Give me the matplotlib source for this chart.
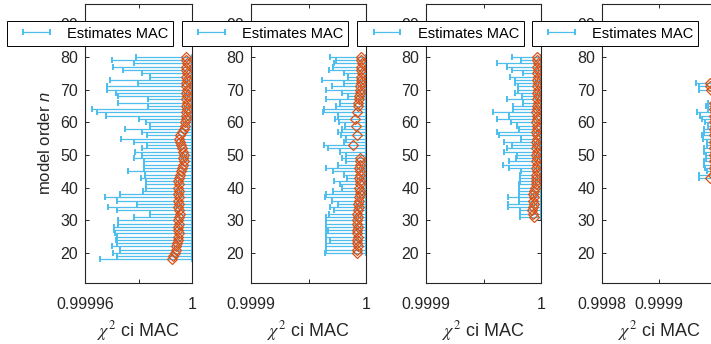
import numpy as np
import matplotlib
matplotlib.use('Agg')
import matplotlib.pyplot as plt
from matplotlib.container import ErrorbarContainer
from matplotlib.legend_handler import HandlerErrorbar

plt.rcParams['font.family'] = ['Liberation Sans', 'DejaVu Sans']
plt.rcParams['mathtext.fontset'] = 'stix'
plt.rcParams['mathtext.it'] = 'Liberation Sans:italic'
plt.rcParams['mathtext.rm'] = 'Liberation Sans'

# model orders and chi^2 confidence bounds / estimates of the MAC
orders1 = list(range(18, 81))
low1 = [0.9999656, 0.9999720, 0.9999705, 0.9999731, 0.9999701, 0.9999720, 0.9999716,
        0.9999720, 0.9999712, 0.9999708, 0.9999708, 0.9999723, 0.9999723, 0.9999783,
        0.9999843, 0.9999720, 0.9999686, 0.9999794, 0.9999720, 0.9999675, 0.9999731,
        0.9999817, 0.9999828, 0.9999828, 0.9999828, 0.9999809, 0.9999824, 0.9999761,
        0.9999821, 0.9999821, 0.9999821, 0.9999783, 0.9999813, 0.9999787, 0.9999813,
        0.9999832, 0.9999783, 0.9999735, 0.9999832, 0.9999813, 0.9999750, 0.9999843,
        0.9999828, 0.9999802, 0.9999679, 0.9999645, 0.9999626, 0.9999836, 0.9999723,
        0.9999836, 0.9999723, 0.9999716, 0.9999682, 0.9999682, 0.9999798, 0.9999694,
        0.9999843, 0.9999813, 0.9999742, 0.9999705, 0.9999783, 0.9999701, 0.9999791]
est1 = [0.9999925, 0.9999929, 0.9999936, 0.9999940, 0.9999940, 0.9999944, 0.9999948,
        0.9999948, 0.9999951, 0.9999948, 0.9999948, 0.9999951, 0.9999948, 0.9999951,
        0.9999955, 0.9999951, 0.9999948, 0.9999951, 0.9999948, 0.9999951, 0.9999948,
        0.9999951, 0.9999948, 0.9999951, 0.9999948, 0.9999951, 0.9999955, 0.9999959,
        0.9999963, 0.9999966, 0.9999970, 0.9999966, 0.9999970, 0.9999966, 0.9999963,
        0.9999959, 0.9999955, 0.9999951, 0.9999955, 0.9999963, 0.9999970, 0.9999974,
        0.9999974, 0.9999978, 0.9999978, 0.9999978, 0.9999981, 0.9999978, 0.9999981,
        0.9999978, 0.9999981, 0.9999978, 0.9999981, 0.9999978, 0.9999978, 0.9999981,
        0.9999978, 0.9999981, 0.9999978, 0.9999978, 0.9999981, 0.9999978, 0.9999978]

orders2 = list(range(20, 81))
low2 = [0.9999643, 0.9999652, 0.9999652, 0.9999652, 0.9999687, 0.9999652, 0.9999652,
        0.9999670, 0.9999652, 0.9999652, 0.9999652, 0.9999652, 0.9999678, 0.9999722,
        0.9999687, 0.9999757, 0.9999704, 0.9999643, 0.9999652, 0.9999713, 0.9999791,
        0.9999774, 0.9999722, 0.9999835, 0.9999809, 0.9999713, 0.9999652, 0.9999757,
        0.9999826, 0.9999791, 0.9999826, 0.9999774, 0.9999670, 0.9999635, 0.9999809,
        0.9999826, 0.9999783, 0.9999757, 0.9999791, 0.9999817, 0.9999765, 0.9999730,
        0.9999757, 0.9999626, 0.9999635, 0.9999739, 0.9999774, 0.9999652, 0.9999843,
        0.9999791, 0.9999652, 0.9999704, 0.9999809, 0.9999617, 0.9999843, 0.9999809,
        0.9999678, 0.9999713, 0.9999722, 0.9999739, 0.9999687]
est2 = [0.9999922, 0.9999922, 0.9999930, 0.9999922, 0.9999922, 0.9999930, 0.9999922,
        0.9999922, 0.9999930, 0.9999922, 0.9999922, 0.9999930, 0.9999922, 0.9999930,
        0.9999939, 0.9999930, 0.9999939, 0.9999939, 0.9999948, 0.9999948, 0.9999939,
        0.9999948, 0.9999948, 0.9999939, 0.9999948, 0.9999948, 0.9999939, 0.9999948,
        0.9999948, 0.9999948, np.nan, np.nan, np.nan, 0.9999887, np.nan,
        np.nan, 0.9999922, np.nan, np.nan, 0.9999913, np.nan, 0.9999904,
        np.nan, 0.9999922, np.nan, 0.9999930, 0.9999930, 0.9999939, 0.9999939,
        0.9999948, 0.9999948, 0.9999948, 0.9999957, 0.9999957, 0.9999957, 0.9999965,
        0.9999957, 0.9999957, 0.9999965, 0.9999957, 0.9999957]

orders3 = list(range(31, 81))
low3 = [0.9999817, 0.9999817, 0.9999817, 0.9999713, 0.9999713, 0.9999809, 0.9999713,
        0.9999809, 0.9999809, 0.9999809, 0.9999809, 0.9999817, 0.9999817, 0.9999817,
        0.9999826, 0.9999722, 0.9999670, 0.9999722, 0.9999783, 0.9999791, 0.9999678,
        0.9999704, 0.9999748, 0.9999678, 0.9999826, 0.9999635, 0.9999617, 0.9999809,
        0.9999791, 0.9999739, 0.9999617, 0.9999722, 0.9999583, 0.9999757, 0.9999757,
        0.9999843, 0.9999704, 0.9999835, 0.9999774, 0.9999800, 0.9999800, 0.9999774,
        0.9999774, 0.9999730, 0.9999843, 0.9999748, 0.9999704, 0.9999617, 0.9999826,
        0.9999748]
est3 = [0.9999939, 0.9999930, 0.9999922, 0.9999930, 0.9999939, 0.9999930, 0.9999939,
        0.9999930, 0.9999939, 0.9999948, 0.9999957, 0.9999957, 0.9999957, 0.9999957,
        0.9999965, 0.9999957, 0.9999965, 0.9999957, 0.9999965, 0.9999957, 0.9999965,
        0.9999957, 0.9999965, 0.9999957, 0.9999965, 0.9999965, 0.9999957, 0.9999965,
        0.9999965, 0.9999957, 0.9999965, 0.9999965, 0.9999957, 0.9999965, 0.9999965,
        0.9999974, 0.9999965, 0.9999974, 0.9999965, 0.9999974, 0.9999965, 0.9999974,
        0.9999965, 0.9999974, 0.9999965, 0.9999974, 0.9999965, 0.9999974, 0.9999965,
        0.9999965]

orders4 = list(range(43, 67)) + [70, 71, 72]
low4 = [0.9999696, 0.9999696, 0.9999839, 0.9999804, 0.9999786, 0.9999786, 0.9999821,
        0.9999821, 0.9999786, 0.9999786, 0.9999839, 0.9999839, 0.9999768, 0.9999750,
        0.9999786, 0.9999786, 0.9999857, 0.9999804, 0.9999750, 0.9999714, 0.9999661,
        0.9999857, 0.9999821, 0.9999857, 0.9999696, 0.9999696, 0.9999643]
est4 = [0.9999893, 0.9999946, 0.9999982, 0.9999964, 0.9999982, 0.9999964, 0.9999982,
        0.9999964, 0.9999982, 0.9999964, 0.9999982, 0.9999964, 0.9999982, 0.9999964,
        0.9999982, 0.9999964, 0.9999982, 0.9999964, 0.9999982, 0.9999964, 0.9999982,
        0.9999964, 0.9999982, 0.9999964, 0.9999911, 0.9999893, 0.9999893]

upper = 1.0
xlims = [(0.99996, 1.0), (0.9999, 1.0), (0.9999, 1.0), (0.9998, 1.0)]
xticks = [[0.99996, 0.99998, 1.0], [0.9999, 0.99995, 1.0], [0.9999, 0.99995, 1.0], [0.9998, 0.9999, 1.0]]
xticklabels = [['0.99996', '', '1'], ['0.9999', '', '1'], ['0.9999', '', '1'], ['0.9998', '0.9999', '1']]
yticks = [20, 30, 40, 50, 60, 70, 80, 90]

blue = '#4DBEEE'
orange = '#D95319'
dark = '#262626'

fig = plt.figure(figsize=(7.11, 3.44), dpi=100)
W, H = 711.0, 344.0
# axes left/right edges in pixels
edges = [(85, 192), (251, 366), (426, 541), (602, 716)]
legend_cx = [90, 265, 440.5, 615]

data = [(orders1, low1, est1), (orders2, low2, est2), (orders3, low3, est3), (orders4, low4, est4)]

for i, (n, low, est) in enumerate(data):
    l, r = edges[i]
    ax = fig.add_axes([l / W, 61 / H, (r - l) / W, 279 / H])
    low = np.array(low)
    mid = (low + upper) / 2
    half = (upper - low) / 2
    eb = ax.errorbar(mid, n, xerr=half, fmt='none', ecolor=blue, elinewidth=0.9,
                     capsize=2.5, capthick=1.4)
    ax.plot(est, n, 'D', ms=5.0, mfc='none', mec=orange, mew=0.9)
    ax.set_xlim(xlims[i])
    ax.set_ylim(10.8, 96.2)
    ax.set_xticks(xticks[i])
    ax.set_xticklabels(xticklabels[i])
    ax.set_yticks(yticks)
    ax.tick_params(direction='in', length=3, width=0.7, colors=dark, labelsize=11.5,
                   top=True, right=True)
    ax.tick_params(axis='x', pad=10)
    ax.tick_params(axis='y', pad=5)
    for s in ax.spines.values():
        s.set_color(dark)
        s.set_linewidth(0.8)
    ax.set_xlabel(r'$\chi^2$ ci MAC', fontsize=13, color=dark, labelpad=5,
                  math_fontfamily='stix')
    if i == 0:
        ax.set_ylabel(r'model order $n$', fontsize=12, color=dark, labelpad=5,
                      math_fontfamily='custom')
    leg = fig.legend([eb], ['Estimates MAC'], loc='center',
                     bbox_to_anchor=(legend_cx[i] / W, 1 - 33.5 / H),
                     fontsize=10.5, fancybox=False, framealpha=1, edgecolor='black',
                     handlelength=3.4, handletextpad=0.4, borderpad=0.35,
                     handler_map={ErrorbarContainer: HandlerErrorbar(xerr_size=0.9)})
    leg.get_frame().set_linewidth(0.7)

fig.savefig('out.png', dpi=100)
